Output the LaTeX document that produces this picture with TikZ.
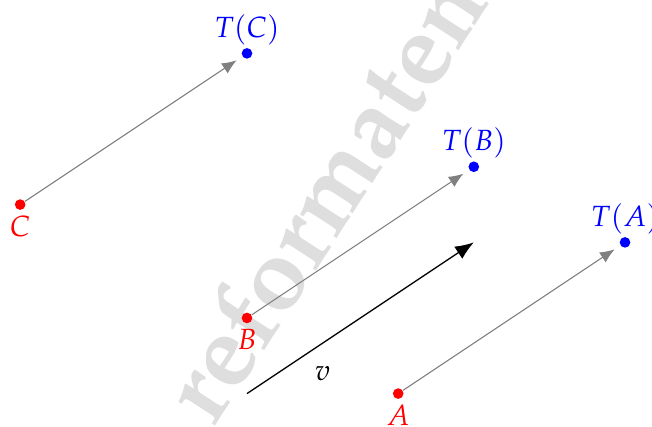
\documentclass[tikz,border=0pt]{standalone}
\usepackage{fontspec}
\usepackage{mathpazo}
\usepackage{xcolor}
\usetikzlibrary{positioning,arrows.meta}

\begin{document}
\begin{tikzpicture}[
    pt/.style={circle, fill, inner sep=0pt, minimum size=4pt},
    src/.style={pt, red},
    img/.style={pt, blue},
    lab/.style={font=\fontsize{11}{13}\selectfont},
    trans/.style={-{Latex[length=5.5pt,width=4.5pt]}, gray, line width=0.4pt, shorten >=2.5pt},
    vec/.style={-{Latex[length=7pt,width=5.5pt]}, line width=0.5pt},
  ]
  \useasboundingbox (-3.267,-1.429) rectangle (5.357,4.206);

  % watermark
  \node[anchor=base west, rotate=57, text=black!13, inner sep=0pt,
    font=\fontencoding{OT1}\fontfamily{ppl}\bfseries\fontsize{38}{38}\selectfont]
    (wm) at (-0.45,-1.47) {reformatematica};

  % original points (red)
  \node[src] (C) at (-3,1.5) {};
  \node[src] (B) at (0,0) {};
  \node[src] (A) at (2,-1) {};

  % translated points (blue)
  \node[img] (TC) at (0,3.5) {};
  \node[img] (TB) at (3,2) {};
  \node[img] (TA) at (5,1) {};

  % labels
  \node[lab, red, below=-1.5pt of C] {$C$};
  \node[lab, red, below=-1.5pt of B] {$B$};
  \node[lab, red, below=-1.5pt of A] {$A$};
  \node[lab, blue, above=-2.5pt of TC] {$T(C)$};
  \node[lab, blue, above=-2.5pt of TB] {$T(B)$};
  \node[lab, blue, above=-2.5pt of TA] {$T(A)$};

  % translation arrows
  \draw[trans] (C) -- (TC);
  \draw[trans] (B) -- (TB);
  \draw[trans] (A) -- (TA);

  % the vector v
  \coordinate (v0) at (0,-1);
  \coordinate (v1) at (3,1);
  \draw[vec] (v0) -- (v1);
  \node[lab] (v) at (1,-0.73) {$v$};

\end{tikzpicture}
\end{document}
